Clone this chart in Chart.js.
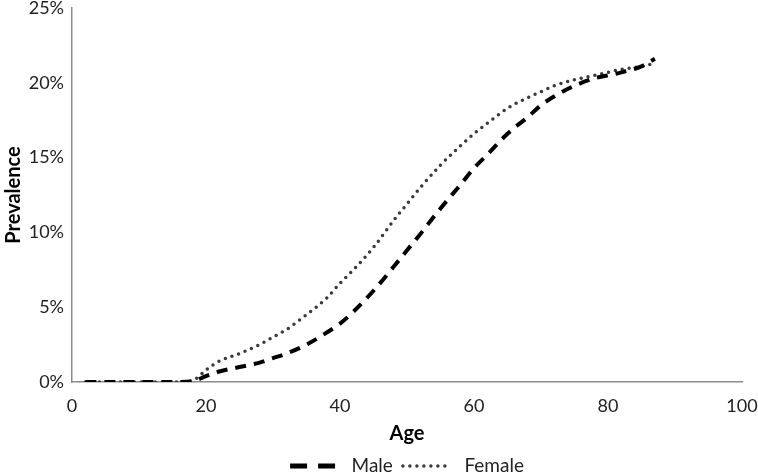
<!DOCTYPE html>
<html>
<head>
<meta charset="utf-8">
<script src="https://cdn.jsdelivr.net/npm/chart.js@4"></script>
<style>
  html, body { margin: 0; padding: 0; background: #fff; }
  #wrap { width: 758px; height: 474px; }
</style>
</head>
<body>
<div id="wrap"><canvas id="myChart" width="758" height="474"></canvas></div>
<script>
// ages
const ages = [2, 5, 10, 15, 18, 20, 22, 25, 28, 30, 32, 35, 38, 40, 42, 45, 48, 50, 52, 55, 58, 60, 62, 65, 68, 70, 72, 75, 78, 80, 82, 85, 87];

// prevalence in %
const male = [0, 0, 0, 0, 0.05, 0.4, 0.7, 1.0, 1.3, 1.6, 1.9, 2.5, 3.3, 3.9, 4.7, 6.1, 7.7, 8.8, 9.9, 11.6, 13.2, 14.3, 15.2, 16.6, 17.7, 18.5, 19.1, 19.8, 20.3, 20.5, 20.7, 21.1, 21.6];
const female = [0, 0, 0, 0, 0.1, 0.8, 1.4, 1.9, 2.5, 3.0, 3.5, 4.5, 5.6, 6.6, 7.5, 9.0, 10.8, 11.9, 13.0, 14.5, 15.8, 16.6, 17.3, 18.3, 19.0, 19.4, 19.8, 20.2, 20.5, 20.7, 20.9, 21.1, 21.3];

const xTicks = [0, 20, 40, 60, 80, 100];
const yTicks = [0, 5, 10, 15, 20, 25];

const toPoints = (vals) => ages.map((a, i) => ({ x: a, y: vals[i] }));

const font = "Lato";

// legend samples: dash patterns for the short legend strokes
const legendDash = {
    Male: { dash: [17, 11, 17, 30], width: 5, cap: 'butt' },
    Female: { dash: [0, 7, 0, 7, 0, 7, 0, 7, 0, 7, 0, 7, 0, 30], width: 3.5, cap: 'round' }
};

const ctx = document.getElementById('myChart');

const myChart = new Chart(ctx, {
    type: 'line',
    data: {
        datasets: [{
            label: 'Male',
            data: toPoints(male),
            borderColor: '#000',
            borderWidth: 4,
            borderDash: [11, 8],
            pointRadius: 0,
            cubicInterpolationMode: 'monotone',
            fill: false
        }, {
            label: 'Female',
            data: toPoints(female),
            borderColor: '#3a3a3a',
            borderWidth: 3.5,
            borderDash: [0, 7],
            borderCapStyle: 'round',
            pointRadius: 0,
            cubicInterpolationMode: 'monotone',
            fill: false
        }]
    },
    options: {
        responsive: false,
        animation: false,
        layout: { padding: { top: 0, right: 16, left: 0, bottom: -11.5 } },
        plugins: {
            legend: {
                position: 'bottom',
                fullSize: false,
                labels: {
                    usePointStyle: true,
                    pointStyle: 'line',
                    pointStyleWidth: 52,
                    color: '#222',
                    font: { family: font, size: 19 },
                    padding: 10,
                    generateLabels: (chart) => {
                        const items = Chart.defaults.plugins.legend.labels.generateLabels(chart);
                        items.forEach((it) => {
                            const d = legendDash[it.text];
                            if (d) {
                                it.lineDash = d.dash;
                                it.lineWidth = d.width;
                                it.lineCap = d.cap;
                            }
                            it.pointStyle = 'line';
                        });
                        return items;
                    }
                }
            },
            tooltip: { enabled: false }
        },
        scales: {
            x: {
                type: 'linear',
                min: 0,
                max: 100,
                afterBuildTicks: (axis) => { axis.ticks = xTicks.map(v => ({ value: v })); },
                afterFit: (axis) => {
                    axis.height = 64.5;
                    axis.paddingLeft = 0;
                    axis.paddingRight = 0;
                },
                ticks: { color: '#222', font: { family: font, size: 18, lineHeight: 1 }, padding: 15 },
                grid: { display: false, drawTicks: false },
                border: { color: '#8c8c8c', width: 1.5 },
                title: { display: true, text: 'Age', color: '#000', font: { family: font, size: 20, weight: 'bold', lineHeight: 1 }, padding: { top: 0, bottom: 2.5 } }
            },
            y: {
                min: 0,
                max: 25,
                afterBuildTicks: (axis) => { axis.ticks = yTicks.map(v => ({ value: v })); },
                afterFit: (axis) => {
                    axis.width = 72;
                    axis.paddingTop = 8;
                    axis.paddingBottom = 0;
                },
                ticks: { color: '#222', font: { family: font, size: 18 }, padding: 8, callback: (v) => v + '%' },
                grid: { display: false, drawTicks: false },
                border: { color: '#8c8c8c', width: 1.5 },
                title: { display: true, text: 'Prevalence', color: '#000', font: { family: font, size: 20, weight: 'bold' }, padding: { top: 2, bottom: 0 } }
            }
        }
    }
});
</script>
</body>
</html>
